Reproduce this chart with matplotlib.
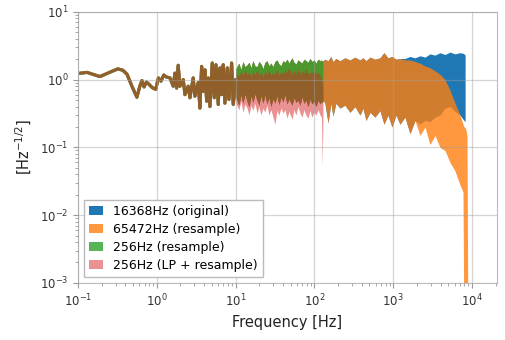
import numpy as np
import matplotlib.pyplot as plt

# low-frequency part, all four spectra lie on top of each other here
line_freq = [0.10, 0.13, 0.19, 0.26, 0.32, 0.37, 0.42, 0.48, 0.56, 0.61,
             0.65, 0.69, 0.74, 0.80, 0.88, 0.97, 1.05, 1.13, 1.23, 1.31,
             1.47, 1.62, 1.70, 1.79, 1.87, 1.97, 2.17, 2.28, 2.51, 2.64,
             2.90, 3.05, 3.36, 3.53, 3.71, 3.89, 4.09, 4.30, 4.50, 4.73,
             5.06, 5.37, 5.64, 6.03, 6.34, 6.66, 6.98, 7.33, 7.85, 8.24,
             8.92, 9.35, 10.1]
line_asd = [1.23, 1.28, 1.11, 1.30, 1.44, 1.38, 1.20, 0.82, 0.55, 0.80,
            0.97, 0.78, 0.92, 0.85, 0.76, 0.72, 1.06, 0.95, 1.17, 1.10,
            1.06, 0.80, 1.25, 0.75, 1.63, 0.80, 1.00, 0.60, 0.80, 0.54,
            1.06, 0.57, 0.91, 0.38, 1.57, 0.67, 1.40, 0.48, 1.06, 0.40,
            1.76, 0.54, 1.66, 0.43, 1.49, 0.60, 1.66, 0.45, 1.49, 0.51,
            1.76, 0.43, 1.00]

# 10 - 128 Hz: envelopes of the dense noise
mid_freq = [10.1, 11.0, 11.7, 12.4, 13.2, 14.0, 14.8, 15.7, 16.6, 17.6,
            18.7, 19.8, 21.0, 22.3, 23.6, 25.0, 26.5, 28.1, 29.8, 31.6,
            33.5, 35.5, 37.7, 40.0, 42.4, 44.9, 47.6, 52.0, 55.1, 58.4,
            61.9, 65.7, 69.6, 73.8, 78.2, 83.0, 87.9, 93.2, 98.8, 105,
            111, 118, 123, 126, 128.5]
mid_top = [1.45, 1.75, 1.40, 1.85, 1.55, 1.65, 1.80, 1.50, 1.90, 1.60,
           1.55, 1.85, 1.70, 1.45, 1.80, 1.90, 1.60, 1.75, 1.55, 1.85,
           1.95, 1.70, 1.60, 1.90, 1.80, 2.00, 1.75, 2.10, 1.80, 1.70,
           1.95, 1.85, 1.75, 2.00, 1.90, 1.80, 2.05, 1.85, 1.95, 1.75,
           2.00, 1.90, 1.95, 1.85, 1.90]
mid_bottom = [0.55, 0.42, 0.60, 0.45, 0.62, 0.48, 0.40, 0.58, 0.46, 0.62,
              0.50, 0.42, 0.58, 0.45, 0.60, 0.44, 0.55, 0.40, 0.52, 0.45,
              0.58, 0.43, 0.55, 0.47, 0.60, 0.44, 0.52, 0.42, 0.55, 0.46,
              0.50, 0.42, 0.56, 0.45, 0.50, 0.40, 0.52, 0.44, 0.48, 0.40,
              0.50, 0.44, 0.48, 0.45, 0.50]
lp_top = [1.30, 1.10, 1.35, 1.15, 1.40, 1.20, 1.30, 1.10, 1.35, 1.20,
          1.40, 1.15, 1.30, 1.10, 1.35, 1.20, 1.40, 1.15, 1.30, 1.20,
          1.45, 1.15, 1.30, 1.20, 1.40, 1.25, 1.50, 1.20, 1.35, 1.25,
          1.45, 1.20, 1.35, 1.25, 1.45, 1.20, 1.30, 1.25, 1.40, 1.20,
          1.30, 1.15, 1.10, 0.90, 0.80]
lp_bottom = [0.45, 0.36, 0.48, 0.33, 0.44, 0.38, 0.30, 0.42, 0.35, 0.45,
             0.32, 0.40, 0.30, 0.38, 0.33, 0.42, 0.30, 0.36, 0.28, 0.22,
             0.35, 0.30, 0.38, 0.32, 0.36, 0.27, 0.34, 0.26, 0.36, 0.30,
             0.40, 0.32, 0.28, 0.36, 0.30, 0.27, 0.35, 0.28, 0.33, 0.30,
             0.36, 0.30, 0.28, 0.052, 0.30]

# above 128 Hz
resamp_freq = [136, 149, 162, 172, 188, 211, 244, 283, 327, 379,
               414, 452, 508, 587, 680, 764, 859, 966, 1085, 1220,
               1411, 1634, 1891, 2188, 2533, 2931, 3393, 3926, 4544, 5259,
               6086, 7044, 7690, 7920, 8150, 8390, 8640, 8900]
resamp_top = [2.00, 1.90, 2.20, 1.85, 2.05, 1.90, 2.10, 1.95, 2.15, 1.95,
              2.10, 1.90, 2.15, 2.00, 2.10, 2.50, 2.10, 2.20, 2.00, 2.05,
              1.95, 1.95, 1.85, 1.75, 1.60, 1.50, 1.35, 1.20, 1.00, 0.70,
              0.45, 0.30, 0.22, 0.20, 0.20, 0.18, 0.15, 0.0001]
resamp_bottom = [0.45, 0.23, 0.45, 0.29, 0.45, 0.38, 0.42, 0.33, 0.40, 0.30,
                 0.38, 0.25, 0.33, 0.28, 0.35, 0.22, 0.30, 0.20, 0.30, 0.22,
                 0.28, 0.16, 0.25, 0.15, 0.20, 0.11, 0.15, 0.10, 0.09, 0.06,
                 0.045, 0.028, 0.022, 0.0001, 0.0001, 0.0001, 0.0001, 0.0001]

orig_freq = [136, 149, 162, 172, 188, 211, 244, 283, 327, 379,
             414, 452, 508, 587, 680, 764, 859, 966, 1085, 1220,
             1411, 1634, 1891, 2188, 2533, 2931, 3393, 3926, 4544, 5259,
             6086, 7044, 7690, 7920, 8180]
orig_top = [2.00, 1.90, 2.20, 1.85, 2.05, 1.90, 2.10, 1.95, 2.15, 1.95,
            2.10, 1.90, 2.15, 2.00, 2.10, 2.50, 2.10, 2.20, 2.00, 2.05,
            2.05, 2.20, 2.10, 2.25, 2.15, 2.40, 2.30, 2.50, 2.35, 2.55,
            2.40, 2.50, 2.45, 2.40, 2.30]
orig_bottom = [0.45, 0.23, 0.45, 0.29, 0.45, 0.38, 0.42, 0.33, 0.40, 0.30,
               0.38, 0.25, 0.33, 0.28, 0.35, 0.22, 0.30, 0.20, 0.30, 0.22,
               0.28, 0.16, 0.25, 0.22, 0.25, 0.24, 0.28, 0.30, 0.38, 0.40,
               0.34, 0.30, 0.26, 0.25, 0.24]

labels = ['16368Hz (original)', '65472Hz (resample)',
          '256Hz (resample)', '256Hz (LP + resample)']

series = [
    (labels[0], '#1f77b4', 1.0, mid_freq + orig_freq,
     mid_bottom + orig_bottom, mid_top + orig_top),
    (labels[1], '#ff7f0e', 0.8, mid_freq + resamp_freq,
     mid_bottom + resamp_bottom, mid_top + resamp_top),
    (labels[2], '#2ca02c', 0.8, mid_freq, mid_bottom, mid_top),
    (labels[3], '#d62728', 0.5, mid_freq, lp_bottom, lp_top),
]

fig, ax = plt.subplots(figsize=(5.06, 3.40), dpi=100)
fig.subplots_adjust(left=0.154, right=0.982, bottom=0.168, top=0.965)

for label, color, alpha, f, lo, hi in series:
    ax.plot(line_freq, line_asd, color=color, alpha=alpha, lw=2.2)
    ax.fill_between(f, lo, hi, color=color, alpha=alpha, lw=0, label=label)

ax.set_xscale('log')
ax.set_yscale('log')
ax.set_xlim(0.1, 2.07e4)
ax.set_ylim(1e-3, 10)

ax.grid(True, which='major', color='#a0a0a0', alpha=0.45, lw=0.9)
ax.set_axisbelow(False)
for sp in ax.spines.values():
    sp.set_color('#bbbbbb')
ax.tick_params(which='both', colors='#999999', labelcolor='#333333',
               labelsize=8.5)
ax.tick_params(which='major', length=3.5)
ax.tick_params(which='minor', length=2)

ax.set_xlabel('Frequency [Hz]', fontsize=10.5, color='#222222')
ax.set_ylabel(r'[Hz$^{-1/2}$]', fontsize=10.5, color='#222222')

leg = ax.legend(loc='lower left', fontsize=9, handlelength=1.1,
                labelspacing=0.4, fancybox=False, edgecolor='#bbbbbb',
                framealpha=1.0)

plt.savefig('out.png')
